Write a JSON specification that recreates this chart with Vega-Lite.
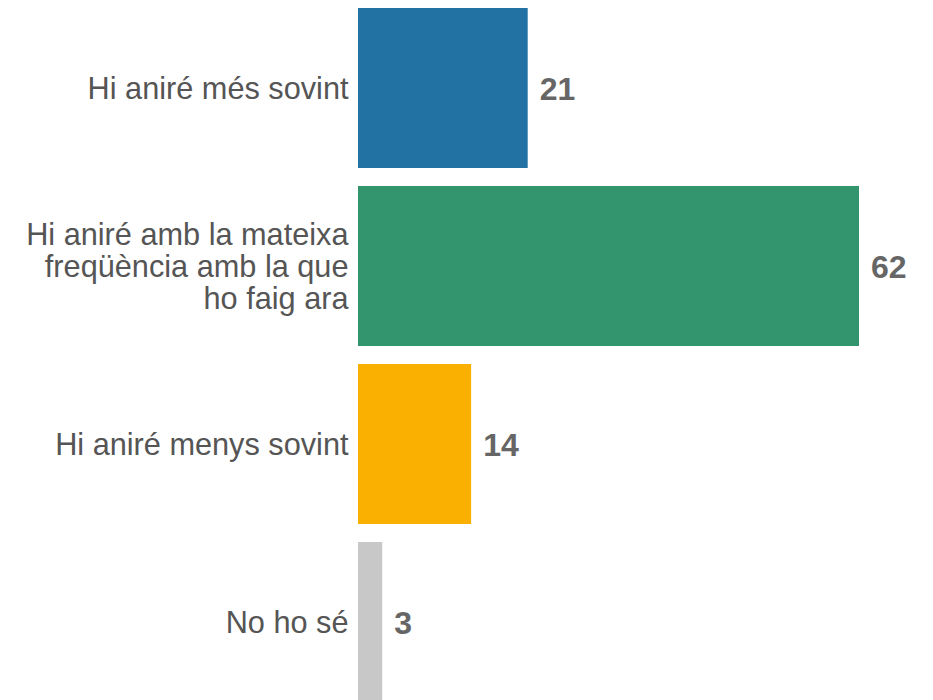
{
  "$schema": "https://vega.github.io/schema/vega-lite/v6.json",
  "autosize": {"type": "none"},
  "padding": {"left": 358, "top": -1, "right": 74, "bottom": 0},
  "width": 501,
  "height": 712,
  "background": "white",
  "config": {"view": {"stroke": null}, "font": "Liberation Sans"},
  "data": {"values": [
    {"cat": "Hi aniré més sovint", "value": 21, "color": "#2272a3"},
    {"cat": "Hi aniré amb la mateixa|freqüència amb la que|ho faig ara", "value": 62, "color": "#33956e"},
    {"cat": "Hi aniré menys sovint", "value": 14, "color": "#f9b000"},
    {"cat": "No ho sé", "value": 3, "color": "#c8c8c8"}
  ]},
  "encoding": {
    "y": {"field": "cat", "type": "nominal", "sort": null,
      "scale": {"paddingInner": 0.1, "paddingOuter": 0.05},
      "axis": {"title": null, "domain": false, "ticks": false, "labelPadding": 10,
        "labelFontSize": 30.7, "labelColor": "#555555", "labelLineHeight": 32,
        "labelOffset": {"condition": {"test": "indexof(datum.value, '|') >= 0", "value": -30}, "value": 2},
        "labelExpr": "split(datum.label, '|')", "labelLimit": 400}},
    "x": {"field": "value", "type": "quantitative", "scale": {"domain": [0, 62]}, "axis": null}
  },
  "layer": [
    {"mark": {"type": "bar"}, "encoding": {"color": {"field": "color", "type": "nominal", "scale": null}}},
    {"mark": {"type": "text", "align": "left", "dx": 12, "dy": 2, "fontSize": 32, "fontWeight": "bold", "color": "#666666"},
     "encoding": {"text": {"field": "value", "type": "quantitative"}}}
  ]
}
